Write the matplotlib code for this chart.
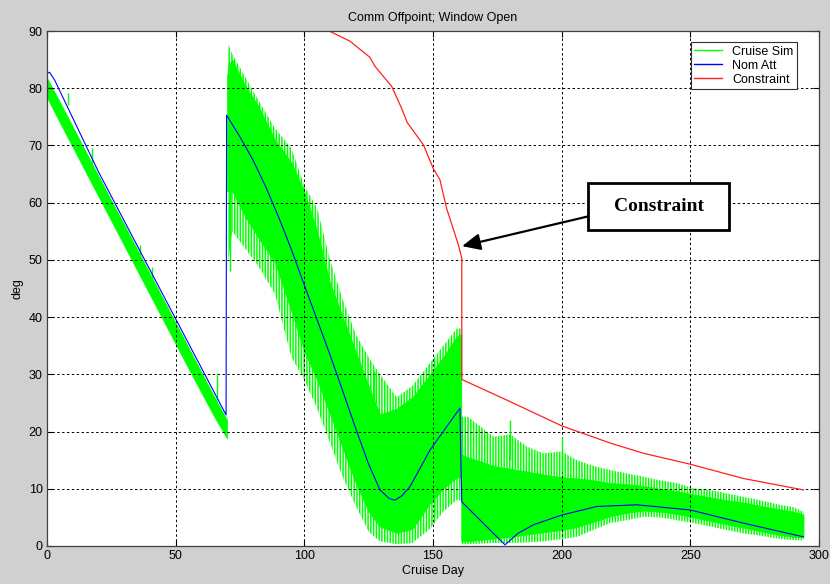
import numpy as np
import matplotlib.pyplot as plt
from matplotlib.lines import Line2D
from matplotlib.patches import Rectangle

plt.rcParams['font.family'] = ['Liberation Sans', 'DejaVu Sans']
plt.rcParams['hatch.linewidth'] = 1.1

# ---- Constraint (red) ----
con_day = [0, 109.7, 117.8, 125.5, 127.5, 134.0, 137.8, 140.0, 146.3, 150.1, 152.7,
           155.3, 159.9, 161.2, 161.2, 178.7, 200.0, 218.8, 231.8, 249.9, 270.6, 293.9]
con_deg = [90, 90, 88.2, 85.4, 83.8, 80.3, 76.5, 74.0, 70.1, 66.0, 64.0,
           59.0, 52.6, 50.3, 29.1, 25.5, 21.0, 18.0, 16.2, 14.3, 11.8, 9.8]

# ---- Nominal attitude (blue) ----
nom_day = [0, 1, 3, 20, 50, 69.6, 69.8, 75, 80, 85, 90, 95, 100, 105, 110, 115, 120,
           125, 129.4, 133, 135.2, 138, 141.1, 148.9, 160.5, 160.8, 161.2, 178.0, 183,
           189.0, 200.0, 213.6, 229.2, 249.9, 270.6, 293.9]
nom_deg = [82.6, 82.8, 81.4, 65.4, 39.7, 22.9, 75.3, 71.5, 67.5, 62.8, 57.5, 51.8,
           45.6, 39.5, 33.4, 27.0, 20.5, 14.3, 9.8, 8.3, 8.0, 8.8, 10.4, 16.8, 24.1,
           15.9, 7.7, 0.2, 2.2, 3.7, 5.4, 6.9, 7.2, 6.3, 4.0, 1.6]

# ---- Cruise sim (green), read as envelopes of the noisy trace ----
s1_day = [0, 5, 10, 15, 20, 25, 30, 35, 40, 45, 50, 55, 60, 65, 70]
s1_hi = [81.8, 77.6, 73.3, 69.0, 64.7, 60.4, 56.2, 51.9, 47.6, 43.3, 39.0, 34.7, 30.4,
         26.1, 22.0]
s1_lo = [78.4, 74.0, 69.7, 65.4, 61.1, 56.8, 52.5, 48.2, 43.9, 39.6, 35.3, 31.0, 26.8,
         22.6, 18.8]

s2_day = [70, 70.5, 72, 77, 82, 88.6, 95, 100, 105, 110, 115, 120, 125, 129.4, 135.9,
          142, 148.9, 154, 159.2, 161]
s2_out_hi = [83, 87.6, 86, 82, 78, 73, 69.5, 63, 59, 50, 43, 37, 33, 30, 26,
             28, 32, 35, 38, 38]
s2_out_lo = [48, 50, 55, 52, 49, 44, 33, 29, 24, 18, 12, 7, 2.5, 0.8, 0.3,
             0.5, 3, 6, 8, 8]
s2_core_hi = [82, 84, 85, 80.5, 77, 71, 67, 62, 55, 46, 40, 34, 28, 23, 24,
              26, 30, 33, 36.6, 37]
s2_core_lo = [62, 62, 62, 57.6, 54, 49.5, 41, 34, 29, 23, 17, 11, 6, 3.4, 2.3,
              3, 7.5, 10, 12, 12]

s3_day = [161, 163.5, 167, 173.5, 180, 186.4, 192.9, 200, 205.9, 212.3, 218.8, 225.3,
          231.8, 238, 244.7, 251.2, 257.7, 264.1, 270.6, 277.1, 283.6, 290, 294]
s3_out_hi = [22.6, 22.6, 21.4, 19.1, 19.5, 17.4, 16.2, 16.5, 15.0, 14.0, 13.3, 12.7,
             12.1, 11.5, 11.0, 10.1, 9.8, 9.2, 8.6, 8.0, 7.3, 6.8, 6.0]
s3_out_lo = [0.3, 0.3, 0.4, 0.5, 0.5, 0.6, 0.8, 1.2, 1.6, 2.8, 4.0, 4.5,
             5.1, 5.0, 4.5, 4.0, 3.4, 2.8, 2.2, 1.8, 1.3, 1.0, 1.0]
s3_core_hi = [16, 15.5, 15, 14, 13.5, 13, 12.5, 12, 11.8, 11.5, 11.0, 10.8,
              10.5, 10.0, 9.6, 9.0, 8.5, 8.0, 7.6, 7.0, 6.5, 6.0, 5.5]
s3_core_lo = [0.8, 0.8, 1.0, 1.3, 1.6, 2.0, 2.4, 2.8, 3.3, 4.2, 5.2, 5.8,
              6.2, 6.0, 5.6, 5.0, 4.4, 3.8, 3.2, 2.6, 2.0, 1.6, 1.5]

# isolated spikes of the sim trace
spk_day = [8.3, 17.4, 36.1, 40.7, 66.0, 180.0, 200.0, 127.0, 106.1, 150.5, 71.0]
spk_lo = [77.0, 67.0, 49.0, 44.5, 25.5, 15.0, 13.0, 20.0, 30.0, 5.0, 48.0]
spk_hi = [79.1, 69.5, 52.6, 48.8, 30.2, 22.0, 19.0, 30.5, 36.0, 30.0, 62.0]

green = '#00ff00'
blue = '#0000ff'
red = '#ff2020'

fig = plt.figure(figsize=(8.3, 5.84), dpi=100, facecolor='#d0d0d0')
ax = fig.add_axes([0.0566, 0.0651, 0.9301, 0.8818])
ax.set_facecolor('white')

ax.fill_between(s1_day, s1_lo, s1_hi, color=green, lw=0.5)
ax.fill_between(s2_day, s2_out_lo, s2_out_hi, facecolor='none', edgecolor=green,
                hatch='||||||', lw=0)
ax.fill_between(s2_day, s2_core_lo, s2_core_hi, color=green, lw=0.5)
ax.fill_between(s3_day, s3_out_lo, s3_out_hi, facecolor='none', edgecolor=green,
                hatch='||||||', lw=0)
ax.fill_between(s3_day, s3_core_lo, s3_core_hi, color=green, lw=0.5)
ax.vlines(spk_day, spk_lo, spk_hi, color=green, lw=1)

ax.plot(nom_day, nom_deg, color=blue, lw=0.8)
ax.plot(con_day, con_deg, color=red, lw=0.9)

ax.set_xlim(0, 300)
ax.set_ylim(0, 90)
ax.set_xticks(np.arange(0, 301, 50))
ax.set_yticks(np.arange(0, 91, 10))
ax.tick_params(direction='in', top=True, right=True, labelsize=9, length=4, pad=3)
ax.grid(True, color='black', linestyle=(0, (2.5, 2.5)), linewidth=0.7)
for s in ax.spines.values():
    s.set_color('#404040')
    s.set_linewidth(0.9)

ax.set_title('Comm Offpoint; Window Open', fontsize=9, pad=7)
ax.set_xlabel('Cruise Day', fontsize=9, labelpad=2)
ax.set_ylabel('deg', fontsize=9, labelpad=4)

handles = [Line2D([], [], color=green, lw=1),
           Line2D([], [], color=blue, lw=1),
           Line2D([], [], color=red, lw=1)]
leg = ax.legend(handles, ['Cruise Sim', 'Nom Att', 'Constraint'], loc='upper right',
                bbox_to_anchor=(0.9715, 0.9786), borderaxespad=0, fontsize=9,
                fancybox=False, framealpha=1, edgecolor='#303030',
                handlelength=2.2, handletextpad=0.8, labelspacing=0.15, borderpad=0.3)
leg.get_frame().set_linewidth(0.8)

# callout box
ax.add_patch(Rectangle((210.3, 55.2), 54.8, 8.3, facecolor='white', edgecolor='black',
                       lw=2, zorder=5))
ax.text(237.7, 59.35, 'Constraint', ha='center', va='center', fontsize=14,
        fontweight='bold', family='Liberation Serif', zorder=6)
ax.annotate('', xy=(161.3, 52.4), xytext=(210.3, 57.6),
            arrowprops=dict(arrowstyle='-|>,head_length=0.55,head_width=0.25',
                            mutation_scale=20, color='black', lw=1.6,
                            shrinkA=0, shrinkB=0), zorder=6)

fig.savefig('out.png', dpi=100, facecolor=fig.get_facecolor())
